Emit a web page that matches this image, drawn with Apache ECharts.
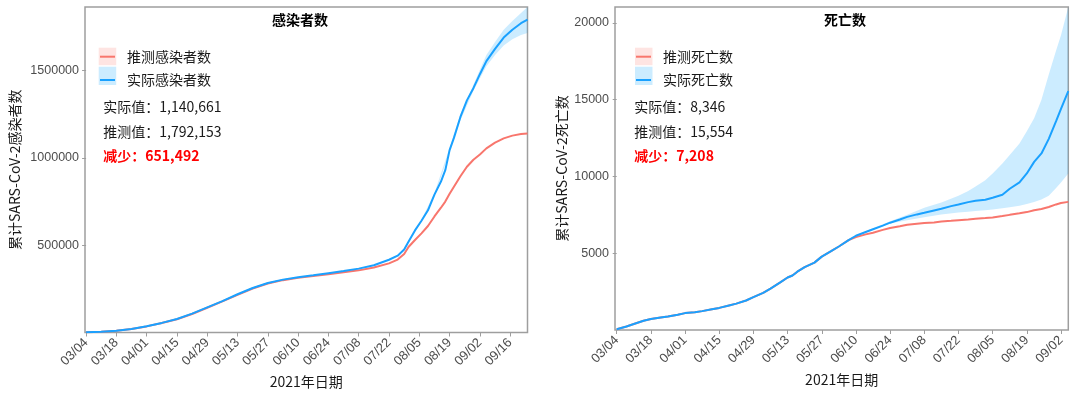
<!DOCTYPE html>
<html><head><meta charset="utf-8">
<script src="https://cdn.jsdelivr.net/npm/echarts@6/dist/echarts.min.js"></script>
<style>html,body{margin:0;padding:0;background:#fff}#c{width:1080px;height:395px}</style>
</head><body><div id="c"></div><script>
// ---------- Left chart: infections ----------
const CASE_DATES = ['03/04','03/11','03/18','03/25','04/01','04/08','04/15','04/22','04/29','05/06','05/13','05/20','05/27','06/03','06/10','06/17','06/24','07/01','07/08','07/15','07/22','07/26','07/29','07/31','08/03','08/06','08/09','08/12','08/15','08/17','08/19','08/21','08/24','08/27','08/30','09/02','09/05','09/09','09/13','09/17','09/21','09/24'];
const CASE_PRED = [2000,4500,10000,20000,35000,54000,76000,106000,142000,178000,216000,252000,281000,300000,313000,324000,334000,345000,356000,372000,396000,418000,450000,490000,530000,568000,610000,665000,715000,750000,795000,835000,895000,950000,990000,1020000,1055000,1088000,1112000,1128000,1137000,1140661];
const CASE_ACTUAL = [2000,4500,10000,20500,36000,55000,77000,108000,144000,180000,219000,255000,284000,303000,317000,328000,340000,352000,366000,385000,417000,440000,475000,520000,585000,640000,700000,790000,865000,930000,1045000,1115000,1235000,1330000,1400000,1480000,1555000,1625000,1690000,1735000,1772000,1792153];
const CASE_BAND_DATES = ['08/06','08/12','08/19','08/24','08/30','09/02','09/05','09/09','09/13','09/17','09/21','09/24'];
const CASE_BAND_LOW  = [635000,780000,1035000,1215000,1385000,1455000,1525000,1590000,1645000,1680000,1705000,1716000];
const CASE_BAND_HIGH = [648000,800000,1058000,1250000,1420000,1505000,1590000,1665000,1735000,1785000,1830000,1865000];
const CASE_X_TICKS = ['03/04','03/18','04/01','04/15','04/29','05/13','05/27','06/10','06/24','07/08','07/22','08/05','08/19','09/02','09/16'];
const CASE_Y_TICKS = [500000,1000000,1500000];

// ---------- Right chart: deaths ----------
const DEATH_DATES = ['03/04','03/08','03/11','03/15','03/18','03/22','03/25','03/29','04/01','04/05','04/08','04/12','04/15','04/19','04/22','04/26','04/29','05/03','05/06','05/10','05/13','05/15','05/17','05/20','05/24','05/27','05/31','06/03','06/07','06/10','06/14','06/17','06/21','06/24','06/28','07/01','07/05','07/08','07/12','07/15','07/19','07/22','07/26','07/29','08/02','08/05','08/09','08/12','08/16','08/19','08/22','08/25','08/28','08/31','09/02','09/05'];
const DEATH_PRED = [50,230,395,600,720,820,880,1000,1100,1150,1230,1350,1440,1600,1720,1920,2140,2420,2700,3100,3420,3550,3800,4100,4390,4780,5150,5440,5850,6050,6230,6340,6520,6650,6760,6850,6920,6970,7010,7060,7110,7150,7200,7240,7290,7330,7420,7500,7600,7680,7800,7880,8010,8180,8270,8346];
const DEATH_ACTUAL = [50,230,395,600,720,820,880,1000,1100,1150,1230,1350,1440,1600,1720,1920,2140,2420,2700,3100,3420,3550,3800,4100,4390,4780,5150,5440,5850,6140,6380,6560,6800,6990,7200,7370,7530,7640,7790,7900,8070,8180,8330,8420,8490,8620,8810,9200,9620,10200,10950,11500,12450,13600,14400,15554];
const DEATH_BAND_DATES = ['06/10','06/17','06/24','07/01','07/08','07/15','07/22','07/26','07/29','08/02','08/05','08/09','08/12','08/16','08/19','08/22','08/25','08/28','08/31','09/02','09/05'];
const DEATH_BAND_LOW  = [6120,6520,6930,7150,7350,7520,7650,7700,7750,7800,7850,7930,8000,8100,8200,8330,8500,8750,9250,9600,10200];
const DEATH_BAND_HIGH = [6170,6620,7080,7500,7960,8300,8750,9050,9350,9750,10200,10850,11400,12150,12950,13800,15000,16650,18200,19200,21040];
const DEATH_X_TICKS = ['03/04','03/18','04/01','04/15','04/29','05/13','05/27','06/10','06/24','07/08','07/22','08/05','08/19','09/02'];
const DEATH_Y_TICKS = [5000,10000,15000,20000];

function dayOf(s){const p=s.split('/').map(Number);return Math.round((Date.UTC(2021,p[0]-1,p[1])-Date.UTC(2021,2,4))/86400000);}
const pairs=(dates,vals)=>dates.map((d,i)=>[dayOf(d),vals[i]]);

const RED='#F8766D', BLUE='#1AA1FF', BAND='rgba(0,160,255,0.2)', PINK='rgba(248,118,109,0.2)';
const FRAME='#9e9e9e', AXTXT='#4d4d4d';
const CJK="'Noto Sans CJK SC','Microsoft YaHei',sans-serif";
const LAT="'Liberation Sans',Arial,sans-serif";

function xAxisCfg(gi,ticks,min,max){
  const vals=ticks.map(dayOf);
  return {type:'value',gridIndex:gi,min:min,max:max,
    name:'2021年日期',nameLocation:'middle',nameGap:41,
    nameTextStyle:{fontFamily:CJK,fontSize:14,color:'#1a1a1a'},
    axisLine:{show:false},splitLine:{show:false},
    axisTick:{show:true,customValues:vals,length:4,lineStyle:{color:FRAME,width:1}},
    axisLabel:{customValues:vals,rotate:45,margin:8,fontFamily:LAT,fontSize:13,color:AXTXT,
      formatter:v=>{const i=vals.indexOf(Math.round(v));return i>=0?ticks[i]:'';}}};
}
function yAxisCfg(gi,ticks,max,name,gap){
  return {type:'value',gridIndex:gi,min:0,max:max,
    name:name,nameLocation:'middle',nameGap:gap,nameRotate:90,
    nameTextStyle:{fontFamily:CJK,fontSize:14,color:'#1a1a1a'},
    axisLine:{show:false},splitLine:{show:false},
    axisTick:{show:true,customValues:ticks,length:4,lineStyle:{color:FRAME,width:1}},
    axisLabel:{customValues:ticks,margin:6,fontFamily:LAT,fontSize:12.5,color:AXTXT,formatter:v=>String(v)}};
}
function bandSeries(gi,dates,low,high){
  return {type:'custom',coordinateSystem:'cartesian2d',xAxisIndex:gi,yAxisIndex:gi,silent:true,z:1,
    data:dates.map((d,i)=>[dayOf(d),low[i],high[i]]),encode:{x:0,y:[1,2]},
    renderItem:function(params,api){
      if(params.dataIndex!==0) return null;
      const up=dates.map((d,i)=>api.coord([dayOf(d),high[i]]));
      const dn=dates.map((d,i)=>api.coord([dayOf(d),low[i]])).reverse();
      return {type:'polygon',shape:{points:up.concat(dn)},style:{fill:BAND}};
    }};
}
function lineSeries(gi,name,color,dates,vals,z){
  return {type:'line',name:name,xAxisIndex:gi,yAxisIndex:gi,symbol:'none',showSymbol:false,
    lineStyle:{color:color,width:2},itemStyle:{color:color},data:pairs(dates,vals),z:z};
}
function legendCfg(left,names){
  return {left:left,top:47.7,orient:'vertical',icon:'rect',itemWidth:15,itemHeight:2,itemGap:5.3,padding:0,
    data:names,selectedMode:false,
    textStyle:{fontFamily:CJK,fontSize:14,color:'#1a1a1a',lineHeight:18,padding:[0,0,0,7]}};
}
function annot(x,lines){
  const ys=[110,135,158.3];
  return lines.map((t,i)=>({type:'text',left:x,top:ys[i]-10,
    style:{text:t,fontFamily:CJK,fontSize:14,fill:i===2?'#FF0000':'#1a1a1a',fontWeight:i===2?'bold':'normal'}}));
}
function legendBoxes(x){
  return [
    {type:'rect',shape:{x:x,y:47.7,width:17.5,height:17.5},style:{fill:PINK},z:-1},
    {type:'rect',shape:{x:x,y:66.7,width:17.5,height:18.3},style:{fill:BAND},z:-1}
  ];
}

const chart=echarts.init(document.getElementById('c'),null,{renderer:'canvas'});
chart.setOption({
  animation:false,
  backgroundColor:'#fff',
  title:[
    {text:'感染者数',left:272,top:13,padding:0,textStyle:{fontFamily:CJK,fontSize:14,fontWeight:'bold',color:'#000'}},
    {text:'死亡数',left:824,top:13,padding:0,textStyle:{fontFamily:CJK,fontSize:14,fontWeight:'bold',color:'#000'}}
  ],
  grid:[
    {left:85,top:7,width:442.5,height:325.5,show:true,borderColor:FRAME,borderWidth:1.5,backgroundColor:'transparent'},
    {left:615,top:7,width:453.3,height:323,show:true,borderColor:FRAME,borderWidth:1.5,backgroundColor:'transparent'}
  ],
  legend:[legendCfg(100,['推测感染者数','实际感染者数']),legendCfg(636,['推测死亡数','实际死亡数'])],
  xAxis:[xAxisCfg(0,CASE_X_TICKS,-0.5,204),xAxisCfg(1,DEATH_X_TICKS,-0.7,185)],
  yAxis:[yAxisCfg(0,CASE_Y_TICKS,1865000,'累计SARS-CoV-2感染者数',63),yAxisCfg(1,DEATH_Y_TICKS,21040,'累计SARS-CoV-2死亡数',46)],
  graphic:[].concat(
    legendBoxes(98.7),legendBoxes(635),
    annot(103.3,['实际值：1,140,661','推测值：1,792,153','减少：651,492']),
    annot(634.3,['实际值：8,346','推测值：15,554','减少：7,208'])
  ),
  series:[
    bandSeries(0,CASE_BAND_DATES,CASE_BAND_LOW,CASE_BAND_HIGH),
    lineSeries(0,'推测感染者数',RED,CASE_DATES,CASE_PRED,3),
    lineSeries(0,'实际感染者数',BLUE,CASE_DATES,CASE_ACTUAL,4),
    bandSeries(1,DEATH_BAND_DATES,DEATH_BAND_LOW,DEATH_BAND_HIGH),
    lineSeries(1,'推测死亡数',RED,DEATH_DATES,DEATH_PRED,3),
    lineSeries(1,'实际死亡数',BLUE,DEATH_DATES,DEATH_ACTUAL,4)
  ]
});
</script></body></html>
